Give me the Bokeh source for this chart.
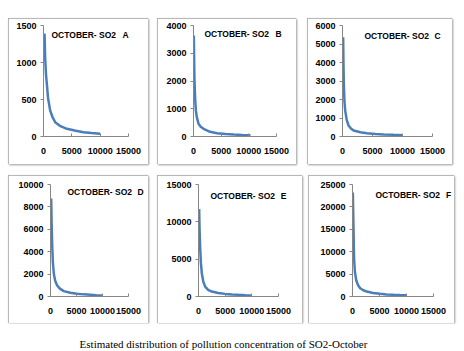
from bokeh.plotting import figure
from bokeh.models import Range1d, FixedTicker, Label, Spacer
from bokeh.layouts import column, row
from bokeh.embed import file_html
from bokeh.resources import INLINE

# ---- data ----
x_ticks = [0, 5000, 10000, 15000]
x_tick_labels = ["0", "5000", "10000", "15000"]

a_x = [180, 300, 450, 590, 800, 1180, 1600, 2060, 3000, 4120, 5500, 7060, 8500, 10000]
a_y = [1390, 1050, 830, 712, 520, 350, 260, 194, 140, 104, 80, 58, 46, 36]
a_yticks = [0, 500, 1000, 1500]

b_x = [60, 120, 180, 300, 425, 600, 910, 1300, 1820, 3000, 4250, 5800, 7290, 8800, 10300]
b_y = [3640, 2700, 2020, 1350, 940, 700, 456, 350, 276, 170, 120, 90, 72, 58, 48]
b_yticks = [0, 1000, 2000, 3000, 4000]

c_x = [110, 160, 220, 330, 450, 700, 1000, 1400, 1850, 3000, 4080, 5500, 6880, 8500, 10000]
c_y = [5370, 4000, 2850, 1900, 1400, 900, 600, 430, 320, 230, 180, 140, 110, 88, 70]
c_yticks = [0, 1000, 2000, 3000, 4000, 5000, 6000]

d_x = [130, 220, 320, 450, 640, 900, 1280, 1800, 2550, 3800, 5100, 6400, 7660, 8800, 10000]
d_y = [8750, 6500, 4700, 3100, 2030, 1400, 985, 700, 480, 330, 240, 190, 150, 115, 90]
d_yticks = [0, 2000, 4000, 6000, 8000, 10000]

e_x = [125, 200, 310, 450, 625, 900, 1250, 1800, 2500, 3700, 5000, 6300, 7500, 8800, 10000]
e_y = [11700, 9000, 6600, 4500, 3090, 2000, 1320, 900, 660, 480, 350, 280, 220, 180, 150]
e_yticks = [0, 5000, 10000, 15000]

f_x = [60, 120, 185, 250, 310, 450, 680, 1000, 1420, 2000, 2650, 3800, 5120, 6300, 7600, 8800, 10060]
f_y = [23200, 19500, 15400, 11000, 8100, 5500, 3680, 2600, 1840, 1400, 1100, 800, 590, 460, 370, 320, 290]
f_yticks = [0, 5000, 10000, 15000, 20000, 25000]

panel_title = "OCTOBER- SO2"
panel_letters = ["A", "B", "C", "D", "E", "F"]
caption = "Estimated distribution of pollution concentration of SO2-October"

LINE_COLOR = "#4A7EBB"
AXIS_COLOR = "#868686"
FONT = "Liberation Sans"

BOX_STYLE = {
    "outline": "1px solid #a0a0a0",
    "outline-offset": "-1px",
    "box-shadow": "1px 1px 2px #9a9a9a",
}


def make_panel(xs, ys, yticks, letter, width, height, left, axis_px, top, bottom,
               title_pos, letter_pos):
    right = 2
    frame_w = width - left - right
    # extend the x range past 15000 so the frame reaches the panel edge,
    # while the axis itself stops at 15000 (bounds)
    x_end = x_ticks[-1] * frame_w / axis_px
    p = figure(width=width, height=height, output_backend="svg", toolbar_location=None,
               x_range=Range1d(0, x_end), y_range=Range1d(0, yticks[-1]),
               min_border_left=left, min_border_right=right,
               min_border_top=top, min_border_bottom=bottom,
               background_fill_color="white", border_fill_color="white")
    p.styles = BOX_STYLE
    p.outline_line_color = None
    p.xgrid.visible = False
    p.ygrid.visible = False

    p.line(xs, ys, line_color=LINE_COLOR, line_width=2.5)

    for ax in (p.xaxis[0], p.yaxis[0]):
        ax.axis_line_color = AXIS_COLOR
        ax.major_tick_line_color = AXIS_COLOR
        ax.minor_tick_line_color = None
        ax.major_label_text_font = FONT
        ax.major_label_text_font_style = "bold"
        ax.major_label_text_font_size = "9px"
        ax.major_label_text_color = "black"

    p.xaxis.bounds = (x_ticks[0], x_ticks[-1])
    p.xaxis.ticker = FixedTicker(ticks=x_ticks)
    p.xaxis.major_label_overrides = {t: l for t, l in zip(x_ticks, x_tick_labels)}
    p.xaxis.major_tick_in = 3
    p.xaxis.major_tick_out = 0
    p.xaxis.major_label_standoff = 11

    p.yaxis.ticker = FixedTicker(ticks=yticks)
    p.yaxis.major_label_overrides = {t: str(t) for t in yticks}
    p.yaxis.major_tick_in = 0
    p.yaxis.major_tick_out = 3
    p.yaxis.major_label_standoff = 4

    p.add_layout(Label(x=title_pos[0], y=title_pos[1], text=panel_title,
                       text_font=FONT, text_font_style="bold", text_font_size="8.5px",
                       text_baseline="middle", text_align="left", text_color="black"))
    p.add_layout(Label(x=letter_pos[0], y=letter_pos[1], text=letter,
                       text_font=FONT, text_font_style="bold", text_font_size="8.5px",
                       text_baseline="middle", text_align="center", text_color="black"))
    return p


pa = make_panel(a_x, a_y, a_yticks, panel_letters[0], 140, 146, 35, 85, 7, 28,
                (1412, 1378), (14470, 1378))
pb = make_panel(b_x, b_y, b_yticks, panel_letters[1], 139, 146, 36, 83, 7, 28,
                (1988, 3676), (15361, 3676))
pc = make_panel(c_x, c_y, c_yticks, panel_letters[2], 145, 146, 35, 90, 7, 28,
                (3667, 5459), (15833, 5459))
pd_ = make_panel(d_x, d_y, d_yticks, panel_letters[3], 140, 148, 42, 78, 9, 27,
                 (3269, 9286), (17308, 9286))
pe = make_panel(e_x, e_y, e_yticks, panel_letters[4], 145, 148, 41, 80, 8, 26,
                (2250, 13421), (15938, 13421))
pf = make_panel(f_x, f_y, f_yticks, panel_letters[5], 146, 148, 44, 81, 8, 26,
                (4259, 22588), (17778, 22588))

cap = figure(width=464, height=28, output_backend="svg", toolbar_location=None,
             x_range=Range1d(0, 464), y_range=Range1d(0, 28),
             min_border=0, background_fill_color="white", border_fill_color="white")
cap.axis.visible = False
cap.grid.visible = False
cap.outline_line_color = None
cap.add_layout(Label(x=223, y=8, text=caption, text_font="Liberation Serif",
                     text_font_size="11px", text_align="center", text_baseline="middle",
                     text_color="black"))

layout = column(
    Spacer(width=464, height=18),
    row(Spacer(width=8, height=146), pa, Spacer(width=9, height=146), pb,
        Spacer(width=11, height=146), pc),
    Spacer(width=464, height=11),
    row(Spacer(width=8, height=148), pd_, Spacer(width=9, height=148), pe,
        Spacer(width=6, height=148), pf),
    cap,
)

open("out.html", "w").write(file_html(layout, INLINE))
